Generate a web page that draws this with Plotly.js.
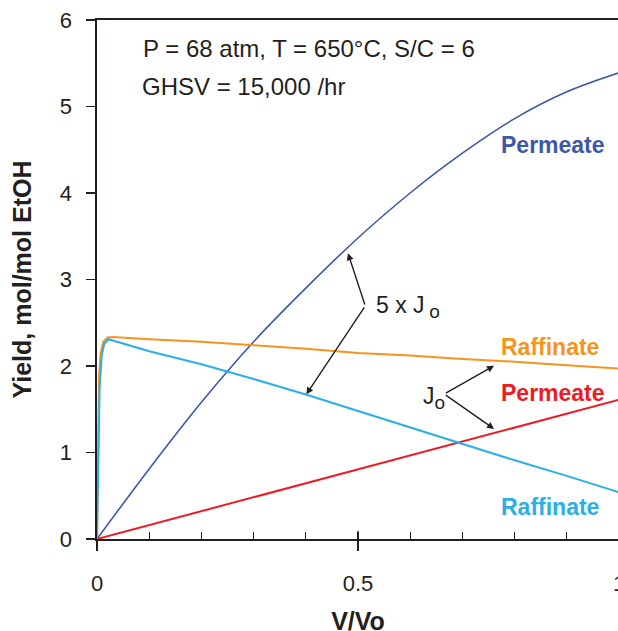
<!DOCTYPE html>
<html>
<head>
<meta charset="utf-8">
<script src="https://cdn.plot.ly/plotly-3.0.1.min.js"></script>
<style>
html, body { margin: 0; padding: 0; overflow: hidden; background: #fff; }
#chart { width: 680px; height: 660px; }
</style>
</head>
<body>
<div id="chart"></div>
<script>
// V/Vo grid
const xGrid = [0, 0.1, 0.2, 0.3, 0.4, 0.5, 0.6, 0.7, 0.8, 0.9, 1.0];
// Permeate at 5 x Jo (blue)
const permeate5J = [0, 0.81, 1.58, 2.28, 2.90, 3.48, 4.00, 4.46, 4.86, 5.17, 5.39];
// Permeate at Jo (red)
const xPermJo = [0, 0.5, 1.0];
const permeateJo = [0, 0.805, 1.61];
// Raffinate at Jo (orange)
const xRaffJo = [0, 0.002, 0.004, 0.007, 0.012, 0.02, 0.03, 0.1, 0.2, 0.3, 0.4, 0.5, 0.6, 0.7, 0.8, 0.9, 1.0];
const raffinateJo = [0, 1.0, 1.9, 2.15, 2.28, 2.33, 2.335, 2.31, 2.28, 2.24, 2.20, 2.15, 2.12, 2.08, 2.05, 2.01, 1.97];
// Raffinate at 5 x Jo (light blue)
const xRaff5J = [0, 0.002, 0.005, 0.009, 0.014, 0.022, 0.05, 0.1, 0.2, 0.3, 0.4, 0.5, 0.6, 0.7, 0.8, 0.9, 1.0];
const raffinate5J = [0, 0.9, 1.75, 2.12, 2.26, 2.31, 2.26, 2.17, 2.02, 1.85, 1.67, 1.48, 1.29, 1.10, 0.91, 0.73, 0.54];

const xTickVals = [0, 0.5, 1];
const xTickText = ['0', '0.5', '1'];
const yTickVals = [0, 1, 2, 3, 4, 5, 6];

const FONT = 'Liberation Sans, Arial, sans-serif';
const INK = '#231f20';
const C_BLUE = '#3d58a7';
const C_RED = '#ed1c24';
const C_ORANGE = '#f7941d';
const C_CYAN = '#29b0e6';

const traces = [
  {x: xGrid, y: permeate5J, mode: 'lines', line: {color: C_BLUE, width: 1.6, shape: 'spline', smoothing: 1.0}, cliponaxis: false},
  {x: xPermJo, y: permeateJo, mode: 'lines', line: {color: C_RED, width: 2}, cliponaxis: false},
  {x: xRaffJo, y: raffinateJo, mode: 'lines', line: {color: C_ORANGE, width: 2}, cliponaxis: false},
  {x: xRaff5J, y: raffinate5J, mode: 'lines', line: {color: C_CYAN, width: 2}, cliponaxis: false}
];

function label(text, x, y, color, opts) {
  return Object.assign({
    text: text, x: x, y: y, xref: 'x', yref: 'y', showarrow: false,
    xanchor: 'center', yanchor: 'middle',
    font: {family: FONT, size: 23, color: color}
  }, opts || {});
}
function arrow(xTip, yTip, xTail, yTail) {
  return {
    text: '', x: xTip, y: yTip, ax: xTail, ay: yTail,
    xref: 'x', yref: 'y', axref: 'x', ayref: 'y',
    showarrow: true, arrowhead: 2, arrowsize: 1, arrowwidth: 1.4,
    arrowcolor: INK, standoff: 0, startstandoff: 0
  };
}

const SUB_O = '<sub><span style="font-size:19px">o</span></sub>';

const annotations = [
  label('P = 68 atm, T = 650°C, S/C = 6', 0.084, 5.668, INK, {xanchor: 'left', font: {family: FONT, size: 24, color: INK}}),
  label('GHSV = 15,000 /hr', 0.083, 5.235, INK, {xanchor: 'left', font: {family: FONT, size: 24, color: INK}}),
  label('<b>Permeate</b>', 0.873, 4.551, C_BLUE),
  label('<b>Raffinate</b>', 0.867, 2.223, C_ORANGE),
  label('<b>Permeate</b>', 0.874, 1.690, C_RED),
  label('<b>Raffinate</b>', 0.867, 0.373, C_CYAN),
  label('5 x J\u2009' + SUB_O, 0.531, 2.686, INK, {xanchor: 'left', font: {family: FONT, size: 23, color: INK}}),
  label('J' + SUB_O, 0.620, 1.63, INK, {xanchor: 'left', font: {family: FONT, size: 23, color: INK}}),
  arrow(0.4808, 3.303, 0.514, 2.694),
  arrow(0.401, 1.673, 0.514, 2.694),
  arrow(0.7607, 2.003, 0.6653, 1.676),
  arrow(0.7607, 1.272, 0.6653, 1.676)
];

// inner half of the major x tick at 0.5 (major ticks cross the axis in the reference)
const shapes = [
  {type: 'line', xref: 'x', yref: 'y', x0: 0.5, x1: 0.5, y0: 0, y1: 0.095, line: {color: INK, width: 1.2}}
];

const layout = {
  width: 680, height: 660,
  margin: {l: 97, r: 61, t: 20, b: 121},
  paper_bgcolor: '#ffffff', plot_bgcolor: '#ffffff',
  showlegend: false,
  font: {family: FONT, color: INK},
  xaxis: {
    range: [0, 1], tickvals: xTickVals, ticktext: xTickText,
    ticks: 'outside', ticklen: 10, tickwidth: 1.2, tickcolor: INK,
    minor: {dtick: 0.1, tick0: 0, ticks: 'inside', ticklen: 7, tickwidth: 1.2, tickcolor: INK},
    showline: true, linewidth: 2, linecolor: INK, mirror: true,
    showgrid: false, zeroline: false, layer: 'below traces',
    tickfont: {family: FONT, size: 22, color: INK}, ticklabelstandoff: 14,
    title: {text: '<b>V/Vo</b>', font: {family: FONT, size: 25, color: INK}, standoff: 17}
  },
  yaxis: {
    range: [0, 6], tickvals: yTickVals,
    ticks: 'outside', ticklen: 9.5, tickwidth: 1.2, tickcolor: INK,
    showline: true, linewidth: 2, linecolor: INK, mirror: false,
    showgrid: false, zeroline: false, layer: 'below traces',
    tickfont: {family: FONT, size: 22, color: INK}, ticklabelstandoff: 9,
    title: {text: '<b>Yield, mol/mol EtOH</b>', font: {family: FONT, size: 25, color: INK}, standoff: 21}
  },
  shapes: shapes,
  annotations: annotations
};

Plotly.newPlot('chart', traces, layout, {displayModeBar: false, staticPlot: true});
</script>
</body>
</html>
